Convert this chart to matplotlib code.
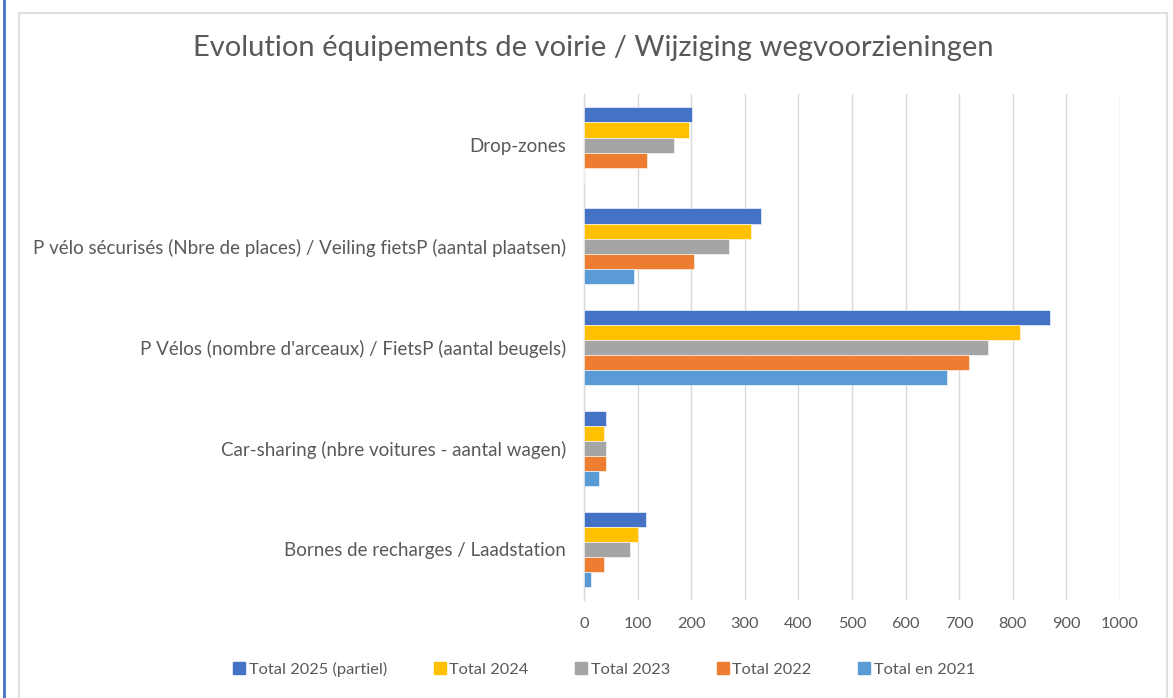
import matplotlib
matplotlib.use("Agg")
import matplotlib.pyplot as plt
from matplotlib.lines import Line2D
from matplotlib.patches import Rectangle
import numpy as np

plt.rcParams['font.family'] = ['Lato', 'DejaVu Sans']

categories = [
    "Drop-zones",
    "P vélo sécurisés (Nbre de places) / Veiling fietsP (aantal plaatsen)",
    "P Vélos (nombre d'arceaux) / FietsP (aantal beugels)",
    "Car-sharing (nbre voitures - aantal wagen)",
    "Bornes de recharges / Laadstation",
]
series_names = ["Total 2025 (partiel)", "Total 2024", "Total 2023",
                "Total 2022", "Total en 2021"]
total_2025 = [202, 331, 870, 41, 116]
total_2024 = [195, 312, 813, 38, 101]
total_2023 = [167, 271, 754, 41, 85]
total_2022 = [117, 205, 719, 41, 38]
total_2021 = [0, 94, 678, 28, 13]
series_values = [total_2025, total_2024, total_2023, total_2022, total_2021]
colors = ["#4472C4", "#FFC000", "#A5A5A5", "#ED7D31", "#5B9BD5"]
x_ticks = list(range(0, 1001, 100))

text_color = "#595959"
grid_color = "#D9D9D9"

fig = plt.figure(figsize=(11.73, 6.98), dpi=100)
ax = fig.add_axes([584 / 1173, 1 - 600 / 698, (1120 - 584) / 1173, (600 - 94.5) / 698])

bar_h = 0.149
y_base = np.arange(len(categories))
for i, (name, vals, col) in enumerate(zip(series_names, series_values, colors)):
    offs = (i - 2) * bar_h
    ax.barh(y_base + offs, vals, height=bar_h, color=col, label=name,
            edgecolor="white", linewidth=0.4, zorder=3)

ax.set_ylim(len(categories) - 0.5, -0.5)
ax.set_xlim(0, 1000)
ax.set_xticks(x_ticks)
ax.set_xticklabels([str(t) for t in x_ticks])
ax.set_yticks(y_base)
ax.set_yticklabels(categories)
ax.tick_params(axis='both', length=0, colors=text_color)
ax.tick_params(axis='x', pad=12, labelsize=11.8)
ax.tick_params(axis='y', pad=13, labelsize=13.5)
ax.grid(axis='x', color=grid_color, linewidth=1.0, zorder=0)
for side in ["top", "right", "bottom"]:
    ax.spines[side].set_visible(False)
ax.spines["left"].set_color(grid_color)
ax.spines["left"].set_linewidth(1.0)

fig.text(593 / 1173, 1 - 48 / 698,
         "Evolution équipements de voirie / Wijziging wegvoorzieningen",
         ha="center", va="center", fontsize=21, color=text_color)

handles = [Line2D([0], [0], marker="s", linestyle="none", markersize=8,
                  markerfacecolor=c, markeredgecolor=c) for c in colors]
fig.legend(handles, series_names, loc="center", ncol=5,
           bbox_to_anchor=(603 / 1173, 1 - 669 / 698), frameon=False,
           fontsize=11.8, labelcolor=text_color, handletextpad=0.1,
           columnspacing=2.7, handlelength=1.0)

# chart frame and left accent line
fig.add_artist(Rectangle((19 / 1173, -0.01), (1167 - 19) / 1173, 1 - 13 / 698 + 0.01,
                         transform=fig.transFigure, fill=False,
                         edgecolor=grid_color, linewidth=1.2))
fig.add_artist(Line2D([4 / 1173, 4 / 1173], [0, 1], transform=fig.transFigure,
                      color="#4472C4", linewidth=2.0))

fig.savefig("out.png", dpi=100, facecolor="white")
